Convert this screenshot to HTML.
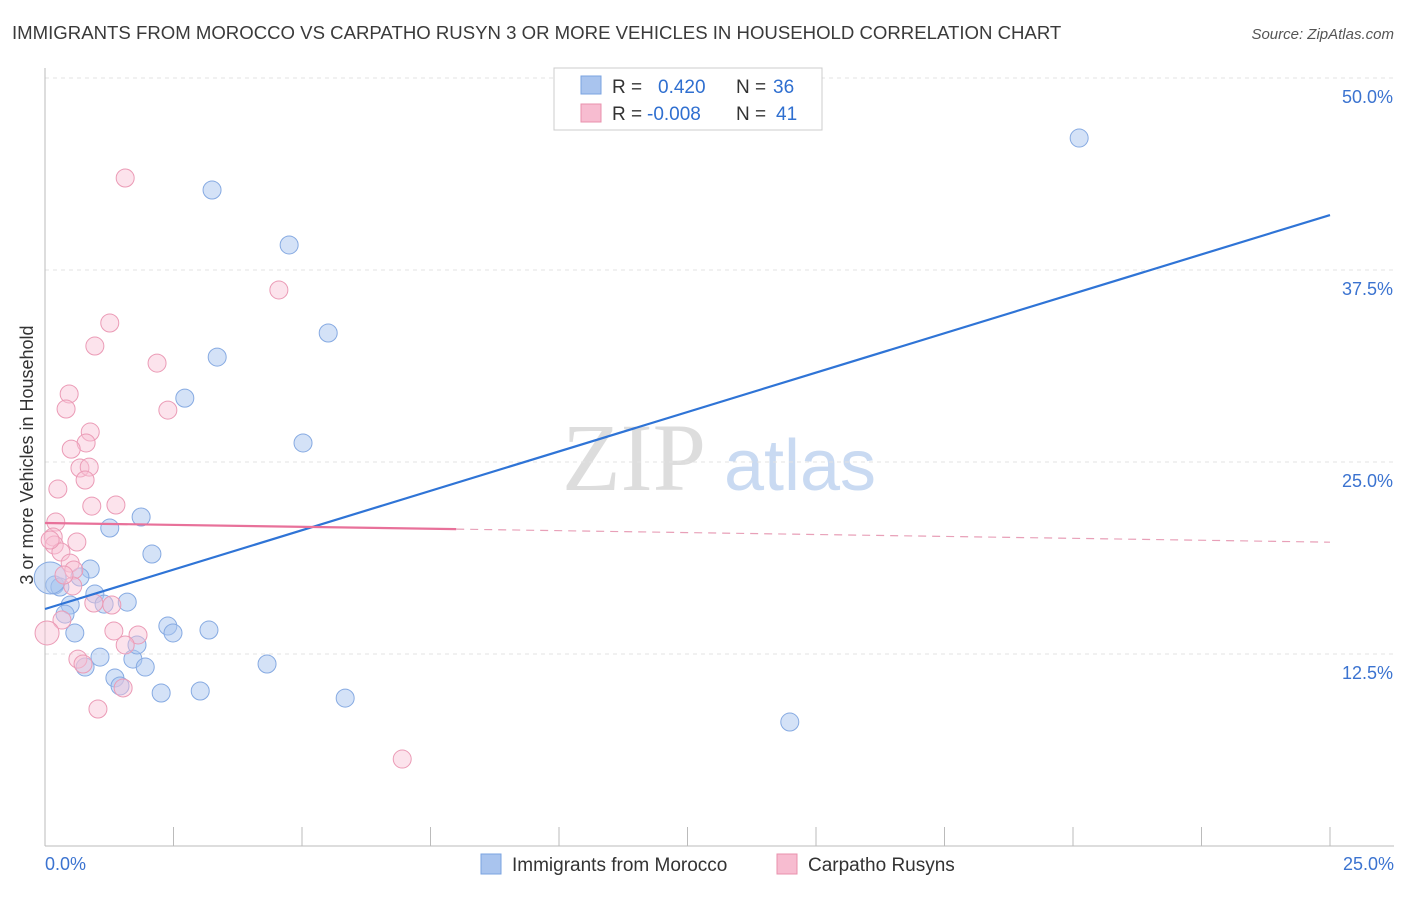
<!DOCTYPE html>
<html><head><meta charset="utf-8"><style>
body{margin:0;background:#fff;font-family:"Liberation Sans",sans-serif;}
</style></head><body>
<svg width="1406" height="892" xmlns="http://www.w3.org/2000/svg" font-family="Liberation Sans, sans-serif">
<text x="12" y="39" font-size="18.6" fill="#3a3a3a">IMMIGRANTS FROM MOROCCO VS CARPATHO RUSYN 3 OR MORE VEHICLES IN HOUSEHOLD CORRELATION CHART</text>
<text x="1394" y="39" font-size="15" fill="#555" font-style="italic" text-anchor="end">Source: ZipAtlas.com</text>
<text x="634" y="490" font-size="96" fill="#ddd" font-family="Liberation Serif, serif" text-anchor="middle">ZIP</text>
<text x="800" y="490" font-size="72" fill="#c9daf2" text-anchor="middle">atlas</text>
<g id="grid"></g><g id="axes"></g><g id="pts"></g><g id="lines"></g>
<text x="33" y="455" font-size="18" fill="#333" text-anchor="middle" transform="rotate(-90 33 455)">3 or more Vehicles in Household</text>
<text x="45" y="870" font-size="18" fill="#3b73d0">0.0%</text>
<text x="1394" y="870" font-size="18" fill="#3b73d0" text-anchor="end">25.0%</text>
<g>
<rect x="554" y="68" width="268" height="62" fill="#fff" stroke="#ccc"/>
<rect x="581" y="76" width="20" height="18" fill="#a9c4ee" stroke="#7aa3e0"/>
<rect x="581" y="104" width="20" height="18" fill="#f7bcd0" stroke="#e891ad"/>
<text x="612" y="93" font-size="19" fill="#333">R =</text>
<text x="658" y="93" font-size="19" fill="#2f6fd0">0.420</text>
<text x="736" y="93" font-size="19" fill="#333">N =</text>
<text x="773" y="93" font-size="19" fill="#2f6fd0">36</text>
<text x="612" y="120" font-size="19" fill="#333">R =</text>
<text x="647" y="120" font-size="19" fill="#2f6fd0">-0.008</text>
<text x="736" y="120" font-size="19" fill="#333">N =</text>
<text x="776" y="120" font-size="19" fill="#2f6fd0">41</text>
</g>
<g>
<rect x="481" y="854" width="20" height="20" fill="#a9c4ee" stroke="#7aa3e0"/>
<text x="512" y="871" font-size="19" fill="#333">Immigrants from Morocco</text>
<rect x="777" y="854" width="20" height="20" fill="#f7bcd0" stroke="#e891ad"/>
<text x="808" y="871" font-size="19" fill="#333">Carpatho Rusyns</text>
</g>
</svg>
<script>
const yTicks=[12.5,25,37.5,50];
const yTickLabels=["12.5%","25.0%","37.5%","50.0%"];
const xTicks=[0,2.5,5,7.5,10,12.5,15,17.5,20,22.5,25];
const blueX=[20.12,3.25,4.75,5.51,3.35,2.72,5.02,1.87,1.26,2.08,0.88,0.68,0.19,0.29,0.97,0.49,1.60,0.39,0.58,2.39,2.49,3.19,1.07,1.71,1.95,0.78,4.32,1.79,1.36,1.46,2.26,3.02,5.84,14.49,0.10,1.15];
const blueY=[46.09,42.71,39.13,33.40,31.83,29.16,26.24,21.42,20.70,19.01,18.03,17.51,16.99,16.86,16.41,15.69,15.88,15.10,13.87,14.32,13.87,14.06,12.30,12.17,11.65,11.65,11.85,13.09,10.94,10.42,9.96,10.09,9.63,8.07,17.45,15.75];
const blueR=[9,9,9,9,9,9,9,9,9,9,9,9,9,9,9,9,9,9,9,9,9,9,9,9,9,9,9,9,9,9,9,9,9,9,16,9];
const pinkX=[1.56,4.55,1.26,0.97,2.18,0.47,0.41,2.39,0.88,0.80,0.51,0.68,0.86,0.78,0.25,0.91,1.38,0.21,0.16,0.62,0.18,0.31,0.49,0.56,0.54,0.95,1.30,0.33,1.34,1.81,1.56,0.64,0.74,1.52,1.03,6.95,0.04,0.10,0.37];
const pinkY=[43.49,36.20,34.05,32.55,31.44,29.43,28.45,28.38,26.95,26.24,25.84,24.61,24.67,23.83,23.24,22.13,22.20,21.09,20.12,19.79,19.60,19.14,18.42,17.97,16.93,15.82,15.69,14.71,14.00,13.74,13.09,12.17,11.85,10.29,8.92,5.66,13.87,19.92,17.64];
const blueFit=[15.43,1.026];
const pinkFit=[21.03,-0.05];
const X=v=>45+v/25*1285, Y=v=>846-v/12.5*192;
const NS="http://www.w3.org/2000/svg";
function mk(t,a,p){const e=document.createElementNS(NS,t);for(const k in a)e.setAttribute(k,a[k]);document.getElementById(p).appendChild(e);return e;}
yTicks.forEach((t,i)=>{
 const l=mk('line',{x1:45,x2:1394,y1:Y(t),y2:Y(t),stroke:'#e3e3e3','stroke-dasharray':'4 4'},'grid');
 
 
 const tx=mk('text',{x:1393,y:Y(t)+25,'font-size':18,fill:'#3b73d0','text-anchor':'end'},'grid');
 tx.textContent=yTickLabels[i];
 
 
});
const ax=mk('line',{x1:45,x2:1394,y1:846,y2:846,stroke:'#bbb'},'axes');


const ay=mk('line',{x1:45,x2:45,y1:68,y2:846,stroke:'#bbb'},'axes');


xTicks.forEach(t=>{const l=mk('line',{x1:X(t),x2:X(t),y1:827,y2:846,stroke:'#bbb'},'axes');
 
 });
blueX.forEach((v,i)=>{const c=mk('circle',{cx:X(v),cy:Y(blueY[i]),r:blueR[i],fill:'rgba(170,198,240,0.5)',stroke:'#86aae2','stroke-width':1},'pts');
 
 });
pinkX.forEach((v,i)=>{const c=mk('circle',{cx:X(v),cy:Y(pinkY[i]),r:i==36?12:9,fill:'rgba(248,192,212,0.45)',stroke:'#eb9bb6','stroke-width':1},'pts');
 
 });
const bl=mk('line',{x1:X(0),y1:Y(blueFit[0]),x2:X(25),y2:Y(blueFit[0]+blueFit[1]*25),stroke:'#2f74d6','stroke-width':2.2},'lines');


const pl=mk('line',{x1:X(0),y1:Y(pinkFit[0]),x2:X(8),y2:Y(pinkFit[0]+pinkFit[1]*8),stroke:'#e8719a','stroke-width':2.2},'lines');


const pd=mk('line',{x1:X(8),y1:Y(pinkFit[0]+pinkFit[1]*8),x2:X(25),y2:Y(pinkFit[0]+pinkFit[1]*25),stroke:'#e8a0b8','stroke-width':1.2,'stroke-dasharray':'8 6'},'lines');


</script>
</body></html>
